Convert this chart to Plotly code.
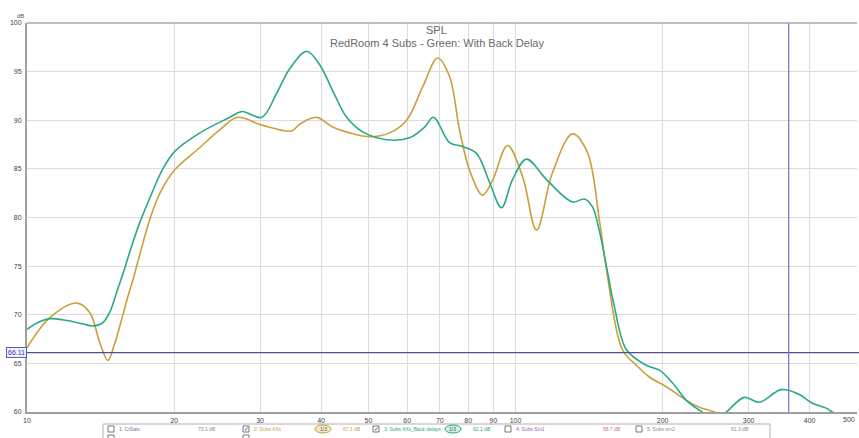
import plotly.graph_objects as go

# ---- measured response data (Hz, dB SPL) ----
freq_back_delay = [10.0, 10.63, 11.14, 12.07, 13.02, 13.65, 14.3, 14.78, 15.28, 15.86,
                   16.24, 17.02, 17.84, 18.97, 20.07, 22.59, 26.01, 27.53, 30.24, 32.45,
                   34.5, 37.38, 39.73, 42.64, 45.12, 48.66, 54.48, 60.7, 65.15, 67.96,
                   73.28, 77.9, 83.2, 88.5, 93.6, 98.6, 105.3, 115.7, 130.8, 138.4,
                   143.7, 148.5, 153.6, 159.4, 168.7, 185.3, 197.0, 209.5, 223.7, 237.8,
                   256.4, 270.1, 294.0, 315.5, 349.9, 380.9, 405.0, 432.5, 445.0, 482.0]
spl_back_delay = [68.5, 69.3, 69.6, 69.4, 69.05, 68.85, 69.2, 70.3, 72.4, 74.8,
                  76.5, 79.5, 82.0, 85.0, 86.8, 88.7, 90.3, 90.9, 90.3, 92.8,
                  95.3, 97.1, 95.7, 92.6, 90.3, 88.8, 88.0, 88.2, 89.3, 90.3,
                  87.7, 87.3, 86.6, 83.6, 81.0, 83.9, 86.0, 83.9, 81.6, 81.9,
                  81.1, 78.6, 74.9, 70.8, 66.4, 64.8, 64.3, 63.0, 61.2, 60.2,
                  59.3, 60.0, 61.5, 61.0, 62.3, 61.8, 60.9, 60.4, 60.0, 59.3]

freq_subs = [10.0, 11.14, 12.66, 13.45, 14.1, 14.64, 15.13, 15.6, 16.01, 16.48,
             17.02, 17.84, 18.71, 20.07, 22.59, 24.8, 27.0, 30.24, 34.83, 36.17,
             39.17, 42.24, 45.76, 50.29, 55.25, 59.85, 64.53, 69.27, 73.28, 76.8,
             80.5, 85.6, 89.7, 96.3, 103.4, 110.4, 119.0, 130.8, 140.3, 148.5,
             153.6, 165.5, 176.8, 187.9, 203.6, 223.7, 237.8, 255.3, 287.0]
spl_subs = [66.6, 69.7, 71.2, 70.2, 67.1, 65.3, 67.1, 69.4, 71.5, 73.6,
            76.2, 79.8, 82.5, 84.9, 87.2, 89.0, 90.3, 89.5, 88.9, 89.6,
            90.3, 89.3, 88.7, 88.3, 88.7, 90.0, 93.4, 96.4, 94.5, 89.0,
            84.9, 82.3, 83.8, 87.4, 84.2, 78.7, 84.6, 88.6, 86.7, 79.7,
            74.6, 66.4, 64.8, 63.6, 62.6, 61.2, 60.5, 60.0, 59.0]

x_tick_vals = [10, 20, 30, 40, 50, 60, 70, 80, 90, 100, 200, 300, 400]
x_tick_text = ["10", "20", "30", "40", "50", "60", "70", "80", "90", "100", "200", "300", "400"]
x_edge_label = "500"
y_tick_vals = [60, 65, 70, 75, 80, 85, 90, 95, 100]

cursor_freq = 362.4
cursor_spl = 66.11

legend_names = ["1: CrSats", "2: Subs 4Xs", "3: Subs 4Xs_Back delays", "4: Subs Sm1", "5: Subs sm2"]
legend_levels = ["73.1 dB", "67.1 dB", "62.1 dB", "58.7 dB", "61.3 dB"]
legend_checked = [False, True, True, False, False]

GREEN = "#2aa888"
GOLD = "#c9a03a"
FONT = "Liberation Sans, Arial, sans-serif"

fig = go.Figure()
fig.add_trace(go.Scatter(x=freq_subs, y=spl_subs, mode="lines",
                         line=dict(color=GOLD, width=1.6, shape="spline", smoothing=1.0),
                         hoverinfo="skip"))
fig.add_trace(go.Scatter(x=freq_back_delay, y=spl_back_delay, mode="lines",
                         line=dict(color=GREEN, width=1.6, shape="spline", smoothing=1.0),
                         hoverinfo="skip"))

W, H = 859, 438
L, R, T, B = 27, 2, 23, 26
PW, PH = W - L - R, H - T - B


def px(x):
    return (x - L) / PW


def py(y):
    return (H - B - y) / PH


shapes = []
annotations = []

# cursor lines
shapes.append(dict(type="line", xref="paper", yref="y", x0=0, x1=1.01, y0=cursor_spl, y1=cursor_spl,
                   line=dict(color="#4d4d8f", width=1.2)))
shapes.append(dict(type="line", xref="x", yref="paper", x0=cursor_freq, x1=cursor_freq, y0=0, y1=1,
                   line=dict(color="#7070b8", width=1.2)))
annotations.append(dict(xref="paper", yref="y", x=0, y=cursor_spl, xanchor="right", yanchor="middle",
                        text=f"{cursor_spl:.2f}", showarrow=False,
                        font=dict(family=FONT, size=7, color="#3a3aa0"),
                        bordercolor="#5a5ac0", borderwidth=1, borderpad=1, bgcolor="#eef0ff"))
annotations.append(dict(xref="x", yref="paper", x=cursor_freq, y=0, xanchor="center", yanchor="top",
                        yshift=-1, text=f"{cursor_freq:.1f}", showarrow=False,
                        font=dict(family=FONT, size=7, color="#2a2a90"),
                        bordercolor="#5a5ac0", borderwidth=1, borderpad=1, bgcolor="#c8ccf4"))
# frequency label at the right edge of the axis
annotations.append(dict(xref="paper", yref="paper", x=1, y=0, xanchor="right", yanchor="top", yshift=-2,
                        text=x_edge_label, showarrow=False, font=dict(family=FONT, size=7, color="#444444")))

# titles and unit label
annotations.append(dict(xref="paper", yref="paper", x=px(436), y=py(30), text="SPL", showarrow=False,
                        font=dict(family=FONT, size=11, color="#666666"), xanchor="center", yanchor="middle"))
annotations.append(dict(xref="paper", yref="paper", x=px(437), y=py(43),
                        text="RedRoom 4 Subs - Green: With Back Delay", showarrow=False,
                        font=dict(family=FONT, size=11, color="#6a6a6a"), xanchor="center", yanchor="middle"))
annotations.append(dict(xref="paper", yref="paper", x=px(20), y=py(16), text="dB", showarrow=False,
                        font=dict(family=FONT, size=6, color="#555555"), xanchor="center", yanchor="middle"))

# bottom legend panel
shapes.append(dict(type="rect", xref="paper", yref="paper", x0=px(103), x1=px(770), y0=py(445), y1=py(424),
                   line=dict(color="#b0b0b0", width=1), fillcolor="white", layer="above"))
name_colors = ["#6a7a9a", GOLD, GREEN, "#9a66c0", "#8a8aa0"]
level_colors = ["#8a8a8a", GOLD, GREEN, "#c07090", "#8a8a8a"]
name_x = [108, 243, 373, 505, 636]
level_x = [207, 352, 482, 612, 740]
row_y = 429
for i, name in enumerate(legend_names):
    bx = name_x[i]
    shapes.append(dict(type="rect", xref="paper", yref="paper", x0=px(bx), x1=px(bx + 6),
                       y0=py(row_y + 3), y1=py(row_y - 3), line=dict(color="#555555", width=0.8),
                       fillcolor="white", layer="above"))
    if legend_checked[i]:
        annotations.append(dict(xref="paper", yref="paper", x=px(bx + 3), y=py(row_y), text="✓",
                                showarrow=False, font=dict(family=FONT, size=6, color="#333333"),
                                xanchor="center", yanchor="middle"))
    annotations.append(dict(xref="paper", yref="paper", x=px(bx + 9), y=py(row_y), text=name,
                            showarrow=False, font=dict(family=FONT, size=5, color=name_colors[i]),
                            xanchor="left", yanchor="middle"))
    annotations.append(dict(xref="paper", yref="paper", x=px(level_x[i]), y=py(row_y), text=legend_levels[i],
                            showarrow=False, font=dict(family=FONT, size=5, color=level_colors[i]),
                            xanchor="center", yanchor="middle"))
# smoothing badges on the active curves
for cx, col, fill in [(323, GOLD, "#f6edc8"), (453, GREEN, "#d4f0e6")]:
    shapes.append(dict(type="circle", xref="paper", yref="paper", x0=px(cx - 8), x1=px(cx + 8),
                       y0=py(row_y + 4), y1=py(row_y - 4), line=dict(color=col, width=1),
                       fillcolor=fill, layer="above"))
    annotations.append(dict(xref="paper", yref="paper", x=px(cx), y=py(row_y), text="1/3",
                            showarrow=False, font=dict(family=FONT, size=5, color="#555555"),
                            xanchor="center", yanchor="middle"))
# second (partially visible) legend row
for bx in [108, 243]:
    shapes.append(dict(type="rect", xref="paper", yref="paper", x0=px(bx), x1=px(bx + 6),
                       y0=py(440), y1=py(435), line=dict(color="#555555", width=0.8),
                       fillcolor="white", layer="above"))

fig.update_layout(
    width=W, height=H,
    margin=dict(l=L, r=R, t=T, b=B),
    paper_bgcolor="white", plot_bgcolor="white",
    showlegend=False,
    shapes=shapes, annotations=annotations,
    font=dict(family=FONT, size=7, color="#444444"),
    xaxis=dict(type="log", range=[1, 2.699], tickmode="array", tickvals=x_tick_vals, ticktext=x_tick_text,
               showgrid=True, gridcolor="#dcdcdc", gridwidth=1, zeroline=False,
               showline=True, linecolor="#a0a0a0", linewidth=1.5, mirror=False,
               ticks="", tickfont=dict(size=7, color="#444444"), ticklabelstandoff=1),
    yaxis=dict(range=[60, 100], tickmode="array", tickvals=y_tick_vals,
               showgrid=True, gridcolor="#dcdcdc", gridwidth=1, zeroline=False,
               showline=True, linecolor="#a0a0a0", linewidth=2,
               ticks="", tickfont=dict(size=7, color="#444444"), ticklabelstandoff=2),
)
# top frame line
fig.add_shape(type="line", xref="paper", yref="paper", x0=0, x1=1, y0=1, y1=1,
              line=dict(color="#a8a8a8", width=1.5))

fig.write_html("out.html")
